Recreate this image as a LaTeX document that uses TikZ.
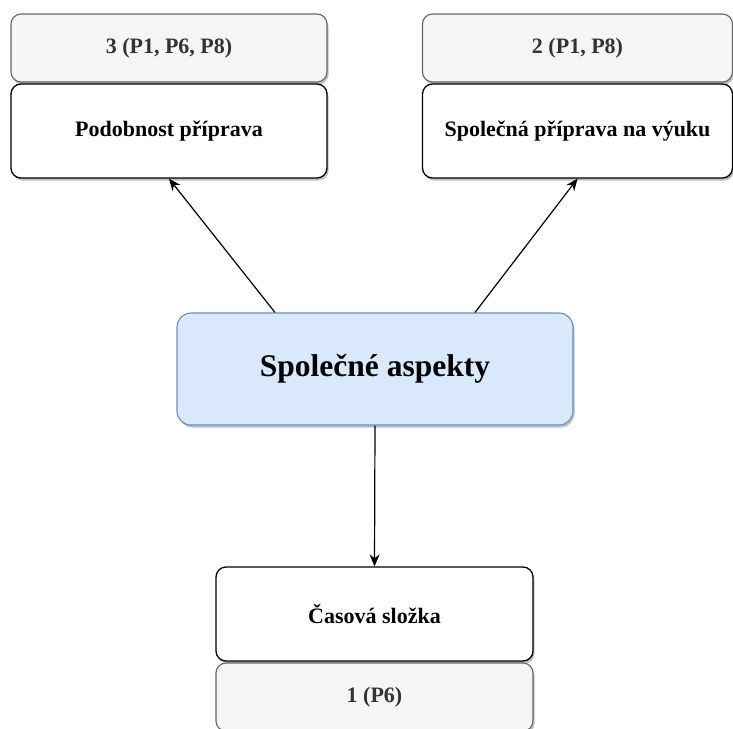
\documentclass[tikz,border=0pt]{standalone}
\usepackage{fontspec}
\setmainfont{Liberation Serif}
\usetikzlibrary{arrows.meta,shadows}

\definecolor{pocetFill}{HTML}{F5F5F5}
\definecolor{pocetLine}{HTML}{666666}
\definecolor{pocetText}{HTML}{333333}
\definecolor{hlavniFill}{HTML}{DAE8FC}
\definecolor{hlavniLine}{HTML}{6C8EBF}

\tikzset{
    boxShadow/.style={drop shadow={shadow xshift=1.5pt, shadow yshift=-2.5pt, opacity=0.25, fill=black}},
    kategorie/.style={draw=black, line width=1.3pt, fill=white, rounded corners=10pt, boxShadow,
        font=\fontsize{22}{26}\selectfont\bfseries, inner sep=0pt},
    pocet/.style={draw=pocetLine, line width=1.1pt, fill=pocetFill, rounded corners=10pt, boxShadow,
        text=pocetText, font=\fontsize{22}{26}\selectfont\bfseries, inner sep=0pt},
    hlavni/.style={draw=hlavniLine, line width=1.1pt, fill=hlavniFill, rounded corners=14pt, boxShadow,
        font=\fontsize{31.5}{36}\selectfont\bfseries, inner sep=0pt},
    sipka/.style={-{Stealth[length=12pt, width=10pt]}, line width=1.2pt, black}
}

\begin{document}
\begin{tikzpicture}[x=1pt, y=-1pt]

        \useasboundingbox (0,0) rectangle (733,728);

        % levy sloupec
        \node[pocet, minimum width=316pt, minimum height=68pt] (podobnostPocet) at (169, 48) {3 (P1, P6, P8)};
        \node[kategorie, minimum width=316pt, minimum height=94pt] (podobnost) at (169, 131) {Podobnost příprava};

        % pravy sloupec
        \node[pocet, minimum width=310pt, minimum height=68pt] (pripravaPocet) at (577.5, 48) {2 (P1, P8)};
        \node[kategorie, minimum width=310pt, minimum height=94pt] (priprava) at (577.5, 131) {\raisebox{3pt}{Společná příprava na výuku}};

        % stred
        \node[hlavni, minimum width=396pt, minimum height=112pt] (aspekty) at (375, 369) {Společné aspekty};

        % dole
        \node[kategorie, minimum width=317pt, minimum height=94pt] (slozka) at (374.5, 614) {Časová složka};
        \node[pocet, minimum width=317pt, minimum height=68pt] (slozkaPocet) at (374.5, 697) {1 (P6)};

        \draw[sipka] ([xshift=-100pt]aspekty.north) -- (podobnost.south);
        \draw[sipka] ([xshift=100pt]aspekty.north) -- (priprava.south);
        \draw[sipka] (aspekty.south) -- (slozka.north);

\end{tikzpicture}
\end{document}
